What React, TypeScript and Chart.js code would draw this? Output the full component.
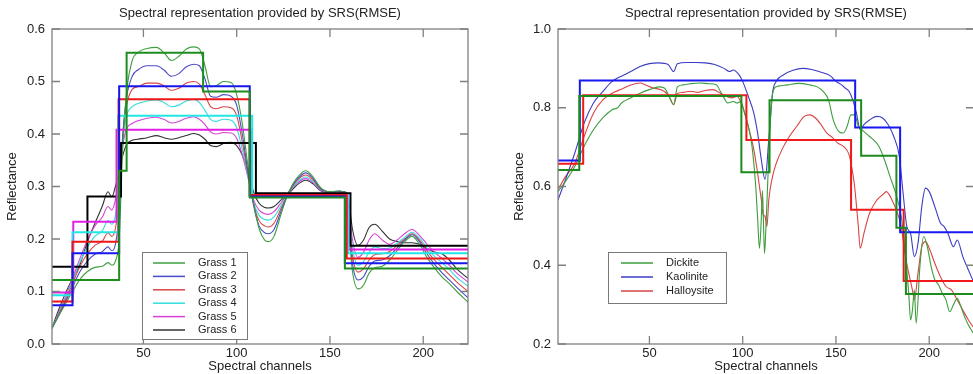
import React, { useEffect, useRef } from "react";
import { Chart, registerables } from "chart.js";

Chart.register(...registerables);

// ---------- data ----------
const xTicks = [50, 100, 150, 200];
const leftYTicks = [0, 0.1, 0.2, 0.3, 0.4, 0.5, 0.6];
const rightYTicks = [0.2, 0.4, 0.6, 0.8, 1.0];
const titleText = "Spectral representation provided by SRS(RMSE)";

const grassCh = [1, 4, 8, 12, 16, 20, 24, 28, 31, 33, 35, 37, 39, 41, 44, 47, 52, 57, 61, 65, 69, 73, 77, 80, 83, 86, 89, 93, 97, 100, 103, 106, 109, 112, 115, 117, 120, 124, 128, 132, 137, 141, 145, 150, 155, 158, 160, 162, 165, 168, 171, 174, 178, 182, 186, 190, 194, 198, 202, 206, 210, 214, 218, 224];

const grass1 = [0.03, 0.05, 0.075, 0.10, 0.123, 0.138, 0.146, 0.148, 0.155, 0.15, 0.158, 0.2, 0.38, 0.48, 0.54,
  0.555, 0.563, 0.565, 0.555, 0.54, 0.548, 0.562, 0.566, 0.562, 0.53, 0.49, 0.492, 0.5, 0.498, 0.475, 0.42, 0.34, 0.27, 0.22, 0.198, 0.195, 0.205, 0.25, 0.29, 0.315, 0.33, 0.318, 0.298, 0.29, 0.292, 0.285, 0.22, 0.14, 0.105, 0.112, 0.135, 0.145, 0.148, 0.16, 0.178, 0.195, 0.205, 0.19, 0.165, 0.145, 0.128, 0.115, 0.1, 0.08];
const grass2 = [0.03, 0.05, 0.078, 0.108, 0.138, 0.158, 0.171, 0.176, 0.185, 0.178, 0.19, 0.25, 0.40, 0.47, 0.51,
  0.522, 0.53, 0.53, 0.522, 0.51, 0.515, 0.528, 0.533, 0.53, 0.505, 0.472, 0.47, 0.475, 0.472, 0.455, 0.40, 0.33, 0.265, 0.225, 0.212, 0.21, 0.218, 0.255, 0.29, 0.312, 0.326, 0.315, 0.296, 0.29, 0.291, 0.285, 0.23, 0.155, 0.122, 0.128, 0.148, 0.158, 0.16, 0.168, 0.183, 0.198, 0.208, 0.195, 0.172, 0.152, 0.136, 0.122, 0.108, 0.088];
const grass3 = [0.03, 0.052, 0.082, 0.115, 0.148, 0.172, 0.188, 0.196, 0.212, 0.205, 0.22, 0.28, 0.40, 0.455, 0.485,
  0.49, 0.497, 0.497, 0.492, 0.483, 0.487, 0.497, 0.5, 0.495, 0.475, 0.452, 0.448, 0.452, 0.45, 0.435, 0.385, 0.325, 0.268, 0.235, 0.225, 0.223, 0.23, 0.26, 0.288, 0.31, 0.322, 0.312, 0.295, 0.29, 0.29, 0.285, 0.24, 0.17, 0.137, 0.143, 0.16, 0.17, 0.172, 0.176, 0.188, 0.2, 0.21, 0.198, 0.178, 0.16, 0.146, 0.132, 0.118, 0.1];
const grass4 = [0.03, 0.053, 0.085, 0.12, 0.156, 0.185, 0.205, 0.216, 0.235, 0.228, 0.245, 0.30, 0.39, 0.435, 0.452,
  0.458, 0.463, 0.465, 0.46, 0.452, 0.455, 0.463, 0.466, 0.46, 0.445, 0.428, 0.424, 0.428, 0.426, 0.412, 0.37, 0.32, 0.27, 0.245, 0.237, 0.236, 0.242, 0.265, 0.288, 0.307, 0.318, 0.309, 0.294, 0.289, 0.29, 0.285, 0.25, 0.185, 0.15, 0.157, 0.175, 0.185, 0.182, 0.183, 0.192, 0.203, 0.213, 0.202, 0.183, 0.167, 0.155, 0.142, 0.127, 0.11];
const grass5 = [0.03, 0.055, 0.088, 0.125, 0.163, 0.198, 0.225, 0.242, 0.262, 0.255, 0.275, 0.32, 0.38, 0.41, 0.42,
  0.425, 0.43, 0.432, 0.428, 0.421, 0.424, 0.43, 0.433, 0.428, 0.418, 0.404, 0.4, 0.403, 0.402, 0.392, 0.36, 0.318, 0.275, 0.255, 0.248, 0.247, 0.252, 0.27, 0.288, 0.305, 0.315, 0.307, 0.293, 0.289, 0.29, 0.286, 0.26, 0.2, 0.165, 0.175, 0.198, 0.21, 0.198, 0.19, 0.198, 0.21, 0.218, 0.207, 0.19, 0.175, 0.163, 0.15, 0.135, 0.118];
const grass6 = [0.03, 0.06, 0.095, 0.125, 0.152, 0.195, 0.23, 0.263, 0.29, 0.28, 0.30, 0.33, 0.36, 0.38, 0.388,
  0.39, 0.393, 0.397, 0.393, 0.39, 0.393, 0.397, 0.401, 0.398, 0.39, 0.378, 0.376, 0.382, 0.384, 0.378, 0.36, 0.33, 0.29, 0.268, 0.26, 0.259, 0.262, 0.275, 0.287, 0.302, 0.312, 0.305, 0.292, 0.289, 0.29, 0.29, 0.275, 0.22, 0.188, 0.198, 0.222, 0.228, 0.215, 0.2, 0.195, 0.193, 0.193, 0.19, 0.182, 0.175, 0.172, 0.16, 0.143, 0.125];

const grass1StepCh = [1, 37, 41, 82, 107, 158, 224];
const grass1Step = [0.122, 0.33, 0.555, 0.481, 0.279, 0.144, 0.144];
const grass2StepCh = [1, 12, 37, 107, 158, 224];
const grass2Step = [0.074, 0.173, 0.491, 0.281, 0.154, 0.154];
const grass3StepCh = [1, 12, 36.7, 107, 159, 224];
const grass3Step = [0.081, 0.195, 0.466, 0.284, 0.163, 0.163];
const grass4StepCh = [1, 12, 36.5, 108.3, 159.8, 224];
const grass4Step = [0.093, 0.213, 0.435, 0.283, 0.173, 0.173];
const grass5StepCh = [1, 12.4, 35.6, 108, 160, 224];
const grass5Step = [0.098, 0.233, 0.408, 0.283, 0.18, 0.18];
const grass6StepCh = [1, 20, 38, 110.3, 161, 224];
const grass6Step = [0.147, 0.281, 0.383, 0.287, 0.187, 0.187];

const dickiteCh = [1, 5, 10, 15, 20, 25, 30, 33, 35, 40, 45, 50, 55, 58, 61, 63, 65, 68, 72, 77, 82, 86, 88, 90, 92, 95, 97, 99, 101, 103, 105, 107, 108, 109, 110, 110.6, 111.2, 111.7, 112.5, 113.5, 115, 116.5, 119, 124, 130, 136, 140, 143, 146, 148.5, 152, 154, 156, 158, 160, 162, 164, 167, 170, 173, 176, 179, 182, 185, 187, 189, 190, 191, 192, 193, 195, 197, 199, 201, 203, 205, 207, 209, 211, 213, 215, 217, 219, 221, 224];
const dickite = [0.587, 0.613, 0.651, 0.702, 0.744, 0.774, 0.795, 0.80, 0.812, 0.825, 0.837, 0.846, 0.853, 0.85, 0.825, 0.808, 0.853, 0.858, 0.861, 0.863, 0.861, 0.858, 0.842, 0.825, 0.812, 0.816, 0.812, 0.816, 0.786, 0.753, 0.702, 0.60, 0.52, 0.443, 0.52, 0.59, 0.50, 0.43, 0.50, 0.62, 0.78, 0.845, 0.855, 0.858, 0.862, 0.858, 0.853, 0.842, 0.82, 0.77, 0.738, 0.736, 0.753, 0.782, 0.782, 0.753, 0.744, 0.731, 0.719, 0.702, 0.668, 0.625, 0.583, 0.524, 0.439, 0.329, 0.261, 0.286, 0.337, 0.253, 0.397, 0.473, 0.447, 0.397, 0.363, 0.35, 0.329, 0.312, 0.282, 0.3, 0.316, 0.295, 0.269, 0.248, 0.225];

const kaoliniteCh = [1, 5, 10, 15, 20, 25, 30, 35, 40, 45, 50, 55, 60, 63, 65, 70, 75, 80, 85, 90, 93, 95, 98, 100, 103, 106, 108, 110, 112, 114, 116, 118, 122, 127, 132, 137, 142, 147, 150, 153, 155, 157, 159, 161, 163, 165, 168, 172, 175, 178, 181, 184, 186, 188, 190, 192, 194, 196, 198, 200, 203, 206, 208, 210, 213, 215, 218, 221, 224];
const kaolinite = [0.566, 0.617, 0.685, 0.761, 0.812, 0.841, 0.867, 0.88, 0.892, 0.905, 0.912, 0.914, 0.91, 0.892, 0.912, 0.915, 0.915, 0.914, 0.91, 0.90, 0.892, 0.896, 0.884, 0.867, 0.829, 0.786, 0.736, 0.668, 0.618, 0.719, 0.837, 0.867, 0.884, 0.895, 0.9, 0.897, 0.89, 0.881, 0.867, 0.858, 0.85, 0.842, 0.82, 0.786, 0.744, 0.757, 0.769, 0.778, 0.774, 0.757, 0.727, 0.676, 0.583, 0.498, 0.481, 0.422, 0.456, 0.549, 0.596, 0.587, 0.549, 0.507, 0.498, 0.481, 0.447, 0.464, 0.422, 0.388, 0.355];

const halloysiteCh = [1, 5, 10, 15, 20, 25, 30, 35, 40, 45, 48, 52, 56, 60, 63, 65, 68, 72, 76, 80, 84, 88, 91, 94, 97, 100, 103, 106, 108, 110, 111, 112, 113, 114, 116, 118, 121, 125, 129, 133, 136, 139, 142, 145, 148, 151, 154, 157, 159, 160, 162, 163, 165, 168, 172, 175, 177, 180, 183, 185, 187, 189, 191, 192, 194, 196, 198, 200, 203, 206, 209, 212, 215, 218, 221, 224];
const halloysite = [0.592, 0.625, 0.659, 0.727, 0.786, 0.82, 0.837, 0.847, 0.858, 0.863, 0.858, 0.85, 0.846, 0.833, 0.808, 0.836, 0.839, 0.842, 0.839, 0.844, 0.846, 0.837, 0.829, 0.825, 0.829, 0.803, 0.753, 0.693, 0.634, 0.566, 0.528, 0.524, 0.498, 0.566, 0.625, 0.659, 0.693, 0.727, 0.753, 0.778, 0.782, 0.774, 0.757, 0.736, 0.725, 0.71, 0.702, 0.681, 0.634, 0.6, 0.498, 0.443, 0.481, 0.532, 0.566, 0.579, 0.587, 0.566, 0.532, 0.498, 0.43, 0.38, 0.337, 0.312, 0.38, 0.447, 0.46, 0.443, 0.405, 0.371, 0.346, 0.337, 0.312, 0.286, 0.261, 0.24];

const dickiteStepCh = [1, 12.4, 99.3, 114.4, 163.5, 182.4, 187.5, 224];
const dickiteStep = [0.642, 0.83, 0.636, 0.819, 0.678, 0.495, 0.327, 0.327];
const kaoliniteStepCh = [1, 12.7, 160.3, 184.4, 224];
const kaoliniteStep = [0.666, 0.869, 0.75, 0.484, 0.484];
const halloysiteStepCh = [1, 14.5, 102, 158.1, 186.3, 224];
const halloysiteStep = [0.658, 0.832, 0.718, 0.541, 0.36, 0.36];

// ---------- styling ----------
const FONT = '"Liberation Sans", Arial, sans-serif';
const TEXT = "#222222";
const FRAME = "#808080";

const toPts = (ch: number[], v: number[]) => ch.map((x, i) => ({ x, y: v[i] }));

const spectrum = (label: string, ch: number[], v: number[], color: string) => ({
  label,
  data: toPts(ch, v),
  borderColor: color,
  backgroundColor: color,
  borderWidth: 1.1,
  pointRadius: 0,
  cubicInterpolationMode: "monotone",
  inLegend: true,
  order: 1,
});

const steps = (ch: number[], v: number[], color: string) => ({
  label: "",
  data: toPts(ch, v),
  borderColor: color,
  backgroundColor: color,
  borderWidth: 2,
  pointRadius: 0,
  stepped: true,
  inLegend: false,
  order: 0,
});

const framePlugin = {
  id: "frameTicks",
  afterDatasetsDraw(chart: any) {
    const { ctx, chartArea: a, scales } = chart;
    ctx.save();
    ctx.strokeStyle = FRAME;
    ctx.lineWidth = 1.3;
    ctx.strokeRect(a.left, a.top, a.right - a.left, a.bottom - a.top);
    const L = 8;
    ctx.beginPath();
    scales.x.ticks.forEach((t: any) => {
      const px = scales.x.getPixelForValue(t.value);
      ctx.moveTo(px, a.bottom);
      ctx.lineTo(px, a.bottom - L);
      ctx.moveTo(px, a.top);
      ctx.lineTo(px, a.top + L);
    });
    scales.y.ticks.forEach((t: any) => {
      const py = scales.y.getPixelForValue(t.value);
      ctx.moveTo(a.left, py);
      ctx.lineTo(a.left + L, py);
      ctx.moveTo(a.right, py);
      ctx.lineTo(a.right - L, py);
    });
    ctx.stroke();
    ctx.restore();
  },
};

const legendPlugin = {
  id: "boxLegend",
  afterDraw(chart: any, _args: any, o: any) {
    const { ctx } = chart;
    const items = chart.data.datasets.filter((d: any) => d.inLegend);
    ctx.save();
    ctx.fillStyle = "#ffffff";
    ctx.fillRect(o.x, o.y, o.w, o.h);
    ctx.strokeStyle = "#7a7a7a";
    ctx.lineWidth = 1;
    ctx.strokeRect(o.x + 0.5, o.y + 0.5, o.w, o.h);
    ctx.font = `11px ${FONT}`;
    ctx.textBaseline = "middle";
    ctx.textAlign = "left";
    items.forEach((d: any, i: number) => {
      const y = o.firstY + i * o.rowH;
      ctx.strokeStyle = d.borderColor;
      ctx.lineWidth = 1.5;
      ctx.beginPath();
      ctx.moveTo(o.lineX1, y);
      ctx.lineTo(o.lineX2, y);
      ctx.stroke();
      ctx.fillStyle = TEXT;
      ctx.fillText(d.label, o.textX, y);
    });
    ctx.restore();
  },
};

function makeOptions(p: {
  yTicks: number[];
  yMin: number;
  yMax: number;
  yWidth: number;
  yTitlePad: number;
  rightPad: number;
  legend: any;
}) {
  return {
    responsive: false,
    animation: false,
    devicePixelRatio: 1,
    layout: { padding: { left: 0, right: p.rightPad, top: 0, bottom: 0 } },
    plugins: {
      legend: { display: false },
      tooltip: { enabled: false },
      title: {
        display: true,
        text: titleText,
        fullSize: false,
        color: TEXT,
        font: { family: FONT, size: 13, weight: "normal" },
        padding: { top: 5.5, bottom: 7.9 },
      },
      boxLegend: p.legend,
    },
    scales: {
      x: {
        type: "linear",
        min: 1,
        max: 224,
        afterBuildTicks: (s: any) => {
          s.ticks = xTicks.map((v) => ({ value: v }));
        },
        afterFit: (s: any) => {
          s.height = 30;
        },
        grid: { display: false, drawTicks: false },
        border: { display: false },
        ticks: {
          padding: 2,
          color: TEXT,
          font: { family: FONT, size: 13 },
          maxRotation: 0,
          callback: (v: any) => String(v),
        },
        title: {
          display: true,
          text: "Spectral channels",
          color: TEXT,
          font: { family: FONT, size: 13 },
          padding: { top: 0, bottom: 0 },
        },
      },
      y: {
        type: "linear",
        min: p.yMin,
        max: p.yMax,
        afterBuildTicks: (s: any) => {
          s.ticks = p.yTicks.map((v) => ({ value: v }));
        },
        afterFit: (s: any) => {
          s.width = p.yWidth;
        },
        grid: { display: false, drawTicks: false },
        border: { display: false },
        ticks: {
          padding: 7,
          color: TEXT,
          font: { family: FONT, size: 13 },
          callback: (v: any) => Number(v).toFixed(1),
        },
        title: {
          display: true,
          text: "Reflectance",
          color: TEXT,
          font: { family: FONT, size: 13 },
          padding: { top: p.yTitlePad, bottom: 0 },
        },
      },
    },
  };
}

export default function App() {
  const leftRef = useRef<HTMLCanvasElement>(null);
  const rightRef = useRef<HTMLCanvasElement>(null);

  useEffect(() => {
    const left = new Chart(leftRef.current as HTMLCanvasElement, {
      type: "line",
      data: {
        datasets: [
          spectrum("Grass 1", grassCh, grass1, "#3f9f3f"),
          spectrum("Grass 2", grassCh, grass2, "#4b4bc8"),
          spectrum("Grass 3", grassCh, grass3, "#d84646"),
          spectrum("Grass 4", grassCh, grass4, "#33dede"),
          spectrum("Grass 5", grassCh, grass5, "#d744d7"),
          spectrum("Grass 6", grassCh, grass6, "#333333"),
          steps(grass1StepCh, grass1Step, "#1e8c1e"),
          steps(grass2StepCh, grass2Step, "#1616ee"),
          steps(grass3StepCh, grass3Step, "#ee1616"),
          steps(grass4StepCh, grass4Step, "#22e6e6"),
          steps(grass5StepCh, grass5Step, "#e41ee4"),
          steps(grass6StepCh, grass6Step, "#000000"),
        ] as any,
      },
      options: makeOptions({
        yTicks: leftYTicks,
        yMin: 0,
        yMax: 0.6,
        yWidth: 52,
        yTitlePad: 5,
        rightPad: 22,
        legend: { x: 142, y: 252, w: 105, h: 87, firstY: 263, rowH: 13.4, lineX1: 153, lineX2: 185, textX: 198 },
      }) as any,
      plugins: [framePlugin, legendPlugin],
    });

    const right = new Chart(rightRef.current as HTMLCanvasElement, {
      type: "line",
      data: {
        datasets: [
          spectrum("Dickite", dickiteCh, dickite, "#3d9d3d"),
          spectrum("Kaolinite", kaoliniteCh, kaolinite, "#3c3cc4"),
          spectrum("Halloysite", halloysiteCh, halloysite, "#d94444"),
          steps(dickiteStepCh, dickiteStep, "#1c8a1c"),
          steps(kaoliniteStepCh, kaoliniteStep, "#1818f0"),
          steps(halloysiteStepCh, halloysiteStep, "#f01818"),
        ] as any,
      },
      options: makeOptions({
        yTicks: rightYTicks,
        yMin: 0.2,
        yMax: 1.0,
        yWidth: 68,
        yTitlePad: 22,
        rightPad: 16,
        legend: { x: 118, y: 252, w: 118, h: 51, firstY: 263, rowH: 14, lineX1: 131, lineX2: 163, textX: 176 },
      }) as any,
      plugins: [framePlugin, legendPlugin],
    });

    return () => {
      left.destroy();
      right.destroy();
    };
  }, []);

  return (
    <div
      style={{
        position: "fixed",
        left: 0,
        top: 0,
        width: 973,
        height: 374,
        overflow: "hidden",
        background: "#ffffff",
      }}
    >
      <canvas
        ref={leftRef}
        width={490}
        height={374}
        style={{ position: "absolute", left: 0, top: 0, width: 490, height: 374 }}
      />
      <canvas
        ref={rightRef}
        width={500}
        height={374}
        style={{ position: "absolute", left: 490, top: 0, width: 500, height: 374 }}
      />
    </div>
  );
}
